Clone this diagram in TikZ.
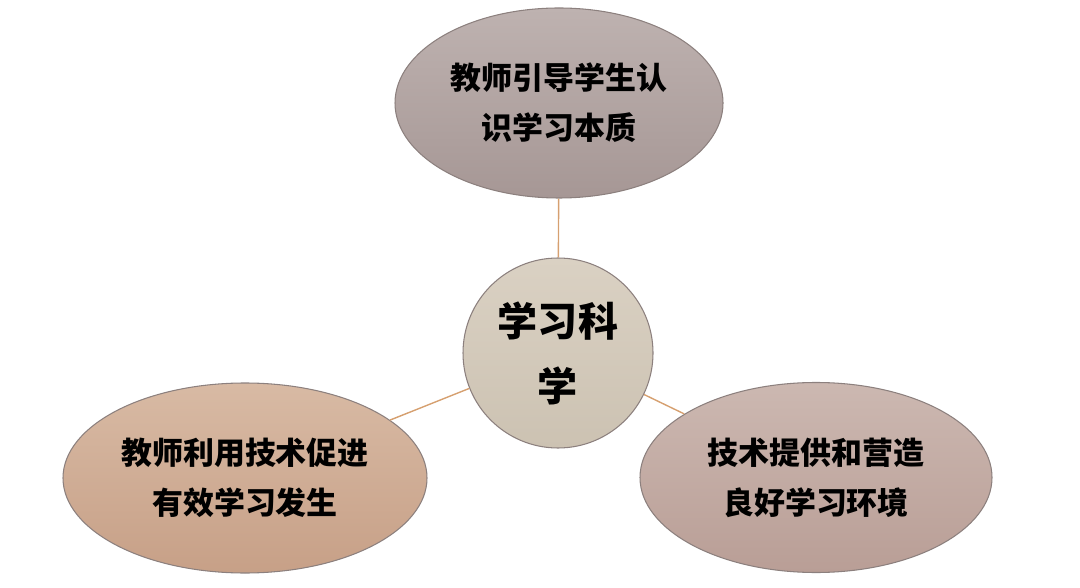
\documentclass[tikz,border=0pt]{standalone}
\usepackage{fontspec}
\usepackage{tikz}
\usetikzlibrary{shapes.geometric}
\newfontfamily\cjk{Noto Sans CJK SC}
\definecolor{cchaut}{RGB}{190,178,176}
\definecolor{cchautbas}{RGB}{166,151,149}
\definecolor{cccentre}{RGB}{218,209,195}
\definecolor{cccentrebas}{RGB}{204,194,178}
\definecolor{ccgauche}{RGB}{216,186,164}
\definecolor{ccgauchebas}{RGB}{199,160,135}
\definecolor{ccdroite}{RGB}{204,184,177}
\definecolor{ccdroitebas}{RGB}{185,158,150}
\definecolor{cclien}{RGB}{214,160,112}
\definecolor{ccbord}{RGB}{140,128,126}

\begin{document}
\begin{tikzpicture}

  % Styles
  \tikzstyle{bulle} = [ellipse, draw=ccbord, line width=0.6pt, inner sep=0pt, minimum height=3.8cm, align=center, font=\cjk\bfseries\fontsize{17.6}{28.5}\selectfont]
  \tikzstyle{coeur} = [circle, draw=ccbord, line width=0.6pt, inner sep=0pt, minimum size=3.8cm, align=center, font=\cjk\bfseries\fontsize{22.8}{37}\selectfont]
  \tikzstyle{lien} = [cclien, line width=0.8pt]

  \useasboundingbox (0,0) rectangle (21.6,-11.76);

  % Liste des bulles
  \draw (11.16,-7.06) node[coeur, top color=cccentre, bottom color=cccentrebas] (science) {学习科\\学};
  \draw (11.18,-2.06) node[bulle, minimum width=6.56cm, top color=cchaut, bottom color=cchautbas] (guide) {教师引导学生认\\识学习本质};
  \draw (4.9,-9.56) node[bulle, minimum width=7.28cm, top color=ccgauche, bottom color=ccgauchebas] (usage) {教师利用技术促进\\有效学习发生};
  \draw (16.32,-9.55) node[bulle, minimum width=7.04cm, top color=ccdroite, bottom color=ccdroitebas] (milieu) {技术提供和营造\\良好学习环境};

  % Liens
  \draw[lien] (science) -- (guide);
  \draw[lien] (science) -- (usage);
  \draw[lien] (science) -- (milieu);

\end{tikzpicture}
\end{document}
